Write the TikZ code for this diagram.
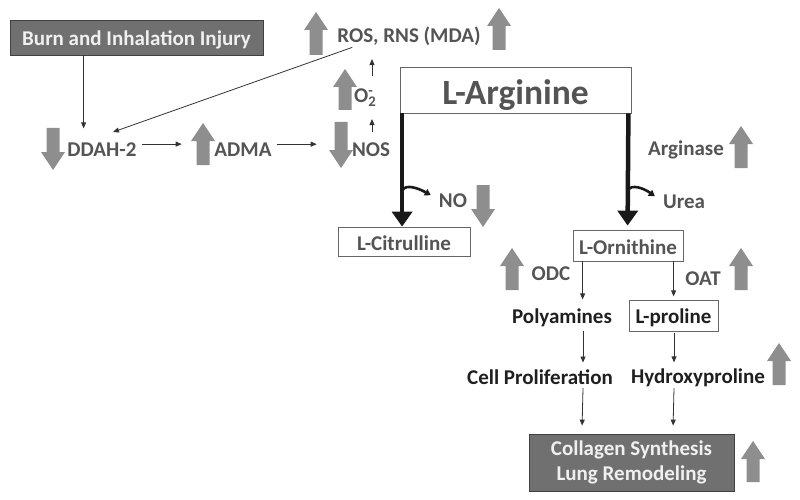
\documentclass[tikz,border=0pt]{standalone}
\usepackage{fontspec}
\setmainfont{Carlito}
\usetikzlibrary{arrows.meta}
\definecolor{txtg}{HTML}{545454}
\definecolor{garrc}{HTML}{8E8E8E}
\definecolor{boxf}{HTML}{707070}
% gray block arrows: x, y of tail, y of tip
\newcommand\GUp[3]{\fill[garrc] (#1-6.5,#2) -- (#1-6.5,#3+18) -- (#1-12,#3+18) -- (#1,#3) -- (#1+12,#3+18) -- (#1+6.5,#3+18) -- (#1+6.5,#2) -- cycle;}
\newcommand\GDown[3]{\fill[garrc] (#1-6.5,#2) -- (#1-6.5,#3-18) -- (#1-12,#3-18) -- (#1,#3) -- (#1+12,#3-18) -- (#1+6.5,#3-18) -- (#1+6.5,#2) -- cycle;}
\begin{document}
\begin{tikzpicture}[x=1pt,y=-1pt,
  lbl/.style={font=\fontsize{21}{24}\selectfont\bfseries, text=txtg, inner sep=1pt, anchor=base},
  blk/.style={lbl, text=black!88},
  wbox/.style={draw=black!60, line width=0.8pt, fill=white, inner sep=0pt, text depth=0pt, font=\fontsize{21}{24}\selectfont\bfseries, text=txtg},
  dbox/.style={draw=black!75, line width=0.8pt, fill=boxf, inner sep=0pt, font=\fontsize{21}{25}\selectfont\bfseries, text=white!94!black},
  thinarr/.style={draw=black!80, line width=0.8pt, -{Triangle[length=6pt,width=5pt]}},
  thickarr/.style={draw=black!90, line width=4.5pt, -{Triangle[length=15pt,width=20pt]}},
  curvarr/.style={draw=black!90, line width=2.6pt, -{Triangle[length=6pt,width=7pt]}},
]
\useasboundingbox (0,0) rectangle (800,500);

% boxes
\node[dbox, minimum width=253pt, minimum height=35pt, text height=19pt] (burn) at (136.5,37.5) {Burn and Inhalation Injury};
\node[wbox, minimum width=231pt, minimum height=46pt, text height=30pt, font=\fontsize{35.5}{38}\selectfont\bfseries] (arg) at (515.5,90) {L-Arginine};
\node[wbox, minimum width=132pt, minimum height=29pt, text height=17pt] (citr) at (404,241.5) {L-Citrulline};
\node[wbox, minimum width=110pt, minimum height=31pt, text height=17pt] (orn) at (628,245.5) {L-Ornithine};
\node[wbox, minimum width=89pt, minimum height=31pt, text height=15pt, text=black!88] (pro) at (673.5,315.5) {L-proline};
\node[dbox, minimum width=205pt, minimum height=57pt, align=center] (coll) at (631.5,462.5) {Collagen Synthesis\\Lung Remodeling};

% labels
\node[lbl] (ros) at (409,43) {ROS, RNS (MDA)};
\node[lbl, anchor=base west] (o2) at (353,103) {O\rlap{\textsuperscript{-}}\textsubscript{2}};
\node[lbl] (nos) at (371,157) {NOS};
\node[lbl] (ddah) at (102,157) {DDAH-2};
\node[lbl] (adma) at (243,157) {ADMA};
\node[lbl] (argi) at (686,155) {Arginase};
\node[lbl] (no) at (453,207) {NO};
\node[lbl] (urea) at (684,208) {Urea};
\node[lbl] (odc) at (551,280) {ODC};
\node[lbl] (oat) at (703,285) {OAT};
\node[blk] (poly) at (562,323) {Polyamines};
\node[blk] (cell) at (540,384) {Cell Proliferation};
\node[blk] (hyd) at (698,383) {Hydroxyproline};

% gray arrows
\GUp{316}{55}{12}
\GUp{499}{50}{8}
\GUp{345}{110}{69}
\GDown{341}{122}{168}
\GDown{53}{128}{170}
\GUp{203}{165}{123}
\GDown{483}{185}{227}
\GUp{741}{168}{126}
\GUp{512}{290}{248}
\GUp{741}{290}{248}
\GUp{779}{385}{343}
\GUp{753}{482}{441}

% thin connectors
\draw[thinarr] ([xshift=74pt]burn.south west) -- ++(0,73);
\draw[thinarr] ([xshift=16pt]ros.south west) -- ([xshift=11pt,yshift=10pt]ddah.north);
\draw[thinarr] ([xshift=-2pt]ddah.east) ++(6,-6) -- ++(40,0);
\draw[thinarr] (adma.east) ++(4,-6) -- ++(40,0);
\draw[thinarr] (nos.north) ++(1,-10) -- ++(0,-13);
\draw[thinarr] (o2.north west) ++(19,-12) -- ++(0,-17);

\draw[thinarr] ([xshift=10pt]orn.south west) -- ++(0,38);
\draw[thinarr] ([xshift=101pt]orn.south west) -- ++(0,35);
\draw[thinarr] ([xshift=583pt]0,0 |- poly.south) ++(0,3) -- ++(0,32);
\draw[thinarr] ([xshift=674pt]0,0 |- pro.south) ++(0,2) -- ++(0,29);
\draw[thinarr] (583,388) -- ([xshift=53.5pt,yshift=8pt]coll.north west);
\draw[thinarr] (674,388) -- ([xshift=144.5pt,yshift=8pt]coll.north west);

% thick arrows
\draw[thickarr] ([xshift=2.5pt]arg.south west) -- ([xshift=64.5pt]citr.north west);
\draw[thickarr] ([xshift=-3pt]arg.south east) -- ([xshift=55pt,yshift=4pt]orn.north west);
\draw[curvarr] (402.5,190) .. controls (406,184) and (418,188) .. ([xshift=-7pt,yshift=5pt]no.west);
\draw[curvarr] (628,190) .. controls (631.5,184) and (643.5,188) .. ([xshift=-7pt,yshift=5pt]urea.west);
\end{tikzpicture}
\end{document}
